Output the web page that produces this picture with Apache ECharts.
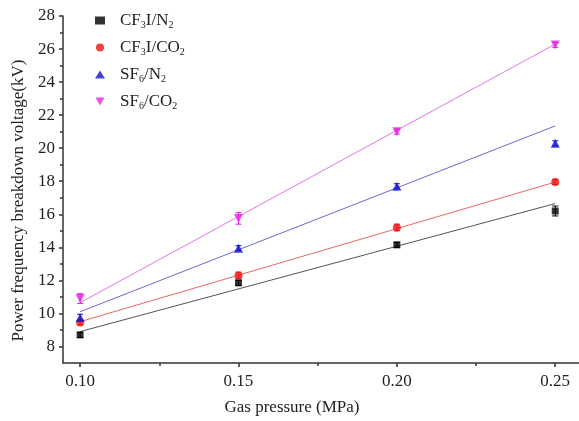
<!DOCTYPE html>
<html>
<head>
<meta charset="utf-8">
<script src="https://cdn.jsdelivr.net/npm/echarts@6/dist/echarts.min.js"></script>
<style>
    html, body { margin: 0; padding: 0; background: #fff; }
    #chart { width: 579px; height: 421px; }
</style>
</head>
<body>
<div id="chart"></div>
<script>
// gas pressure (MPa)
const pressures = [0.10, 0.15, 0.20, 0.25];

// breakdown voltage (kV), measured points
const cf3iN2 = [8.7, 11.85, 14.15, 16.2];
const cf3iCO2 = [9.45, 12.3, 15.2, 17.95];
const sf6N2 = [9.75, 13.95, 17.7, 20.3];
const sf6CO2 = [10.9, 15.75, 21.0, 26.25];

// error bar half-widths (kV)
const cf3iN2Err = [0.15, 0.15, 0.15, 0.3];
const cf3iCO2Err = [0.15, 0.2, 0.2, 0.15];
const sf6N2Err = [0.2, 0.15, 0.15, 0.15];
const sf6CO2Err = [0.3, 0.35, 0.15, 0.15];

// linear fit lines, value at 0.10 and at 0.25
const fitX = [0.10, 0.25];
const cf3iN2Fit = [8.9, 16.65];
const cf3iCO2Fit = [9.5, 17.95];
const sf6N2Fit = [10.1, 21.35];
const sf6CO2Fit = [10.65, 26.3];

const yMajor = [8, 10, 12, 14, 16, 18, 20, 22, 24, 26, 28];
const yMinor = [9, 11, 13, 15, 17, 19, 21, 23, 25, 27];
const xMajor = [0.10, 0.15, 0.20, 0.25];
const xMinor = [0.125, 0.175, 0.225];

const FONT = 'Liberation Serif';
const INV_TRIANGLE = 'path://M0,0 L10,0 L5,9 Z';

const GROUPS = [
    { name: 'CF3I/N2', label: '{a|CF}{s|3}{a|I/N}{s|2}', pts: cf3iN2, err: cf3iN2Err, fit: cf3iN2Fit, color: '#000000', lineColor: '#555555', symbol: 'rect', size: 7 },
    { name: 'CF3I/CO2', label: '{a|CF}{s|3}{a|I/CO}{s|2}', pts: cf3iCO2, err: cf3iCO2Err, fit: cf3iCO2Fit, color: '#ee1111', lineColor: '#e36a6a', symbol: 'circle', size: 8 },
    { name: 'SF6/N2', label: '{a|SF}{s|6}{a|/N}{s|2}', pts: sf6N2, err: sf6N2Err, fit: sf6N2Fit, color: '#1414cc', lineColor: '#6a6acc', symbol: 'triangle', size: 9 },
    { name: 'SF6/CO2', label: '{a|SF}{s|6}{a|/CO}{s|2}', pts: sf6CO2, err: sf6CO2Err, fit: sf6CO2Fit, color: '#e622e6', lineColor: '#e07ae0', symbol: INV_TRIANGLE, size: 9 },
];

const labelOf = Object.fromEntries(GROUPS.map(g => [g.name, g.label]));

const axisText = { fontFamily: FONT, fontSize: 17, color: '#222' };
const axisLine = { show: true, lineStyle: { color: '#333', width: 1.5 } };

const series = [];
GROUPS.forEach(g => {
    series.push({
        name: g.name,
        type: 'scatter',
        data: pressures.map((x, i) => [x, g.pts[i]]),
        symbol: g.symbol,
        symbolSize: g.size,
        itemStyle: { color: g.color },
        z: 4,
    });
    series.push({
        name: g.name,
        type: 'line',
        data: fitX.map((x, i) => [x, g.fit[i]]),
        showSymbol: false,
        symbol: 'none',
        itemStyle: { color: g.color },
        lineStyle: { color: g.lineColor, width: 1 },
        silent: true,
        z: 2,
    });
    series.push({
        name: g.name,
        type: 'custom',
        data: pressures.map((x, i) => [x, g.pts[i] - g.err[i], g.pts[i] + g.err[i]]),
        itemStyle: { color: g.color },
        renderItem: (params, api) => {
            const lo = api.coord([api.value(0), api.value(1)]);
            const hi = api.coord([api.value(0), api.value(2)]);
            const w = 3;
            const style = { stroke: g.color, lineWidth: 1 };
            return {
                type: 'group',
                children: [
                    { type: 'line', shape: { x1: lo[0], y1: lo[1], x2: hi[0], y2: hi[1] }, style },
                    { type: 'line', shape: { x1: hi[0] - w, y1: hi[1], x2: hi[0] + w, y2: hi[1] }, style },
                    { type: 'line', shape: { x1: lo[0] - w, y1: lo[1], x2: lo[0] + w, y2: lo[1] }, style },
                ],
            };
        },
        z: 3,
    });
});

const chart = echarts.init(document.getElementById('chart'));
chart.setOption({
    animation: false,
    backgroundColor: '#fff',
    grid: { left: 63, right: 0, top: 16, bottom: 57 },
    legend: {
        orient: 'vertical',
        left: 90,
        top: 7,
        itemGap: 8.5,
        itemWidth: 10,
        itemHeight: 8,
        data: GROUPS.map(g => ({ name: g.name, icon: g.symbol, itemStyle: { color: g.color } })),
        formatter: name => labelOf[name],
        textStyle: {
            fontFamily: FONT,
            color: '#222',
            padding: [0, 0, 0, 10],
            rich: {
                a: { fontFamily: FONT, fontSize: 17, color: '#222', lineHeight: 20 },
                s: { fontFamily: FONT, fontSize: 10, color: '#222', lineHeight: 8, verticalAlign: 'bottom' },
            },
        },
    },
    xAxis: [
        {
            type: 'value',
            min: 0.0946,
            max: 0.2575,
            name: 'Gas pressure (MPa)',
            nameLocation: 'middle',
            nameGap: 36,
            nameTextStyle: { fontFamily: FONT, fontSize: 17, color: '#222', padding: [0, 58, 0, 0] },
            axisLine,
            axisTick: { show: true, inside: false, length: 4, customValues: xMajor, lineStyle: { color: '#333', width: 1.5 } },
            axisLabel: { ...axisText, margin: 10, customValues: xMajor, formatter: v => v.toFixed(2) },
            splitLine: { show: false },
        },
        {
            type: 'value',
            min: 0.0946,
            max: 0.2575,
            position: 'bottom',
            axisLine: { show: false },
            axisTick: { show: true, inside: false, length: 3, customValues: xMinor, lineStyle: { color: '#333', width: 1.5 } },
            axisLabel: { show: false },
            splitLine: { show: false },
        },
    ],
    yAxis: [
        {
            type: 'value',
            min: 7,
            max: 28,
            name: 'Power frequency breakdown voltage(kV)',
            nameLocation: 'middle',
            nameGap: 31,
            nameTextStyle: { fontFamily: FONT, fontSize: 17, color: '#222', padding: [0, 22, 0, 0] },
            axisLine,
            axisTick: { show: true, inside: false, length: 4, customValues: yMajor, lineStyle: { color: '#333', width: 1.5 } },
            axisLabel: { ...axisText, margin: 8, customValues: yMajor },
            splitLine: { show: false },
        },
        {
            type: 'value',
            min: 7,
            max: 28,
            position: 'left',
            axisLine: { show: false },
            axisTick: { show: true, inside: false, length: 3, customValues: yMinor, lineStyle: { color: '#333', width: 1.5 } },
            axisLabel: { show: false },
            splitLine: { show: false },
        },
    ],
    series,
});
</script>
</body>
</html>
